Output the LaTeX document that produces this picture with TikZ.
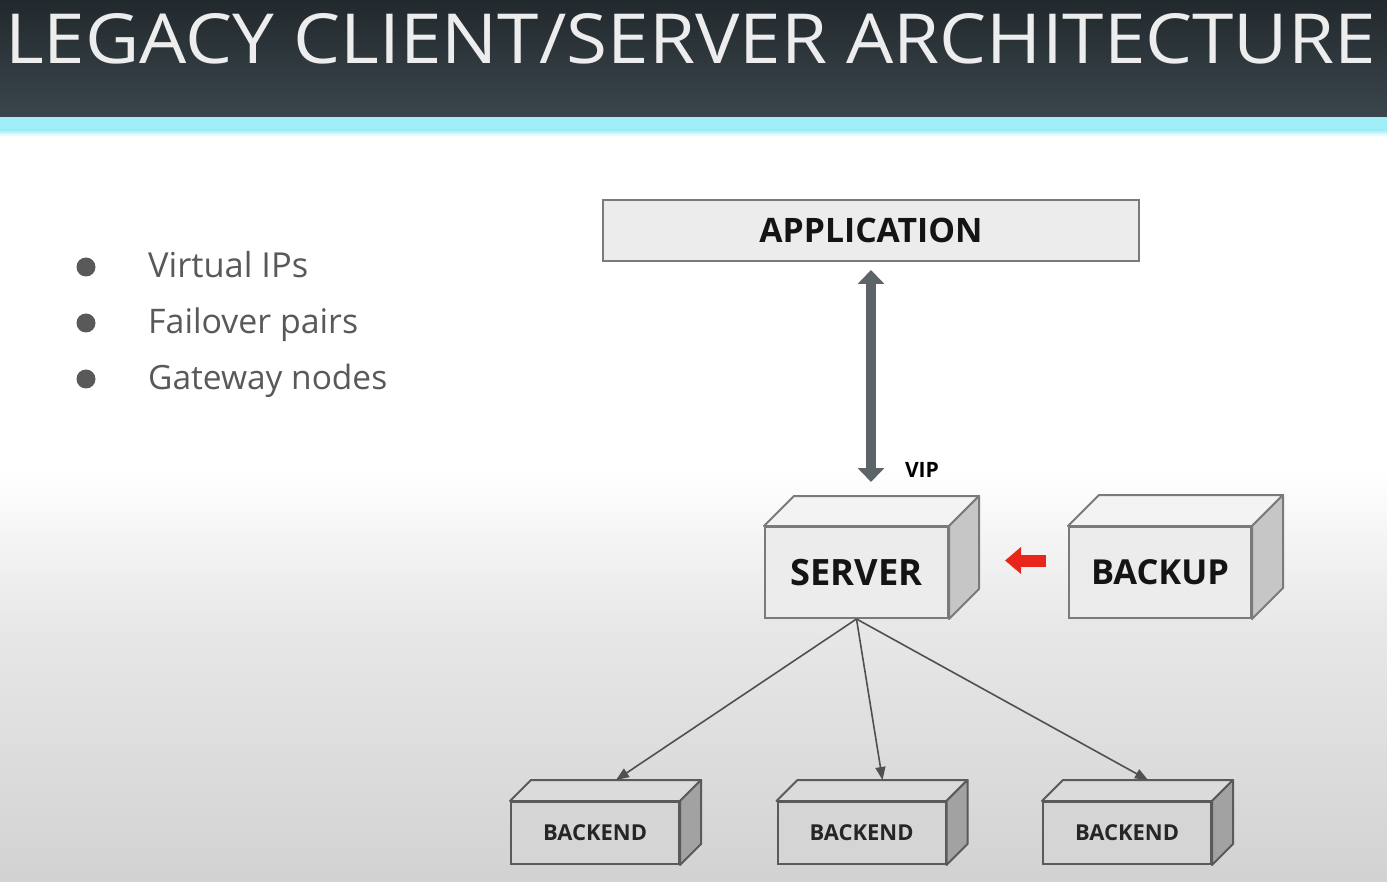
\documentclass[tikz,border=0pt]{standalone}
\usepackage{fontspec}
\setmainfont{Open Sans}
\usetikzlibrary{arrows.meta}
\definecolor{hdrtop}{HTML}{22292D}
\definecolor{hdrbot}{HTML}{3A464C}
\definecolor{cyanstrip}{HTML}{A0EEF7}
\definecolor{bgmid}{HTML}{E8E8E8}
\definecolor{bgbot}{HTML}{D2D2D2}
\definecolor{boxline}{HTML}{7A7A7A}
\definecolor{srvfrontc}{HTML}{ECECEC}
\definecolor{srvtopc}{HTML}{F3F3F3}
\definecolor{srvsidec}{HTML}{C6C6C6}
\definecolor{bkfrontc}{HTML}{D5D5D5}
\definecolor{bktopc}{HTML}{DBDBDB}
\definecolor{bksidec}{HTML}{A2A2A2}
\definecolor{bkline}{HTML}{5A5A5A}
\definecolor{arrgray}{HTML}{5C6468}
\definecolor{connc}{HTML}{505050}
\definecolor{bullc}{HTML}{595959}
\definecolor{redarr}{HTML}{E8261C}
\newcommand\cubebox[8]{%
  \node[#7front, minimum width=#4pt, minimum height=#5pt] (#1) at (#2,#3) {#8};
  \filldraw[#7top] (#1.north west) -- ++(#6,-#6) -- ([shift={(#6,-#6)}]#1.north east) -- (#1.north east) -- cycle;
  \filldraw[#7side] (#1.north east) -- ++(#6,-#6) -- ([shift={(#6,-#6)}]#1.south east) -- (#1.south east) -- cycle;
  \coordinate (#1-top) at ([shift={(#6,-#6)}]#1.north);
}
\begin{document}
\begin{tikzpicture}[x=1pt,y=-1pt,
  srvfront/.style={draw=boxline, fill=srvfrontc, line width=2pt, inner sep=0pt, font=\bfseries, text=black!92},
  srvtop/.style={draw=boxline, fill=srvtopc, line width=2pt, line join=round},
  srvside/.style={draw=boxline, fill=srvsidec, line width=2pt, line join=round},
  bkfront/.style={draw=bkline, fill=bkfrontc, line width=2pt, inner sep=0pt, font=\bfseries, text=black!85},
  bktop/.style={draw=bkline, fill=bktopc, line width=2pt, line join=round},
  bkside/.style={draw=bkline, fill=bksidec, line width=2pt, line join=round},
  dblarrow/.style={draw=arrgray, line width=10pt, {Triangle[width=26pt,length=14pt]}-{Triangle[width=26pt,length=14pt]}},
  redarrow/.style={draw=redarr, line width=12pt, -{Triangle[width=26pt,length=16pt]}},
  conn/.style={draw=connc, line width=1.6pt, -{Triangle[width=10pt,length=13pt]}},
  bullet/.style={circle, fill=bullc, minimum size=19pt, inner sep=0pt},
  btext/.style={anchor=base west, inner sep=0pt, text=bullc}
]
\useasboundingbox (0,0) rectangle (1387,882);
% background
\fill[white] (0,132) rectangle (1387,470);
\shade[top color=white, bottom color=bgmid] (0,469) rectangle (1387,621);
\shade[top color=bgmid, bottom color=bgbot] (0,620) rectangle (1387,882);
% header
\shade[top color=hdrtop, bottom color=hdrbot] (0,0) rectangle (1387,117);
\fill[cyanstrip] (0,117) rectangle (1387,131);
\shade[top color=cyanstrip, bottom color=white] (0,130) rectangle (1387,136);
\node[anchor=base west, inner sep=0pt, text=white!93!black] (title) at (5,64)
  {\resizebox{1370pt}{50pt}{LEGACY CLIENT/SERVER ARCHITECTURE}};
% bullets
\node[bullet] (d1) at (86,267) {};
\node[bullet] (d2) at (86,323) {};
\node[bullet] (d3) at (86,379) {};
\node[btext] (t1) at (148,278) {\resizebox{160pt}{!}{Virtual IPs}};
\node[btext] (t2) at (148,334) {\resizebox{210pt}{!}{Failover pairs}};
\node[btext] (t3) at (148,390) {\resizebox{239pt}{!}{Gateway nodes}};
% application
\node[draw=boxline, fill=srvfrontc, line width=2pt, minimum width=536pt, minimum height=61pt, inner sep=0pt, font=\bfseries, text=black!92] (app) at (871,230.5)
  {\resizebox{223pt}{!}{APPLICATION}};
% server and backup
\cubebox{server}{856.5}{572.5}{183}{91}{30}{srv}{\resizebox{132pt}{!}{SERVER}}
\cubebox{backup}{1160}{572.5}{182}{91}{31}{srv}{\resizebox{138pt}{!}{BACKUP}}
% backends
\cubebox{b1}{595}{833}{168}{62}{21}{bk}{\resizebox{104pt}{!}{BACKEND}}
\cubebox{b2}{861.5}{833}{168}{62}{21}{bk}{\resizebox{104pt}{!}{BACKEND}}
\cubebox{b3}{1127}{833}{168}{62}{21}{bk}{\resizebox{104pt}{!}{BACKEND}}
% arrows
\draw[dblarrow, shorten <=8pt, shorten >=44pt] (app.south) -- (app.south |- server.north);
\node[anchor=base, inner sep=0pt, font=\bfseries] (vip) at (922,478) {\resizebox{34pt}{!}{VIP}};
\draw[redarrow] ([shift={(-22,-12)}]backup.west) -- ([shift={(56,-12)}]server.east);
\draw[conn] (server.south) -- (b1-top);
\draw[conn] (server.south) -- (b2-top);
\draw[conn] (server.south) -- (b3-top);
\end{tikzpicture}
\end{document}
